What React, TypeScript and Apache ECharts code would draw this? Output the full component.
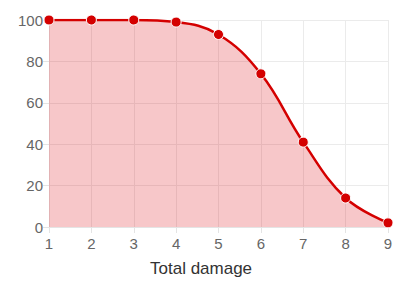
import React, { useEffect, useRef } from "react";
import * as echarts from "echarts";

const categories = ["1", "2", "3", "4", "5", "6", "7", "8", "9"];
const values = [100, 100, 100, 99, 93, 74, 41, 14, 2];
const xTitle = "Total damage";

export default function App() {
  const ref = useRef<HTMLDivElement>(null);
  useEffect(() => {
    if (!ref.current) return;
    const chart = echarts.init(ref.current, undefined, { renderer: "svg" });
    chart.setOption({
      animation: false,
      grid: { left: 49, right: 17, top: 20, bottom: 58 },
      xAxis: {
        type: "category",
        data: categories,
        boundaryGap: false,
        axisLine: { show: true, lineStyle: { color: "#e4e4e4" } },
        axisTick: { show: true, alignWithLabel: true, length: 6, lineStyle: { color: "#e4e4e4" } },
        axisLabel: { color: "#666", fontSize: 15, fontFamily: "Liberation Sans, Arial", margin: 9 },
        splitLine: { show: true, lineStyle: { color: "#ebebeb" } },
      },
      yAxis: {
        type: "value",
        min: 0,
        max: 100,
        interval: 20,
        axisLine: { show: true, lineStyle: { color: "#e4e4e4" } },
        axisTick: { show: true, length: 6, lineStyle: { color: "#e4e4e4" } },
        axisLabel: { color: "#666", fontSize: 15, fontFamily: "Liberation Sans, Arial", margin: 6 },
        splitLine: { show: true, lineStyle: { color: "#ebebeb" } },
      },
      graphic: [
        {
          type: "text",
          left: 150,
          top: 260,
          style: { text: xTitle, fill: "#333", fontSize: 17, fontFamily: "Liberation Sans, Arial" },
        },
      ],
      series: [
        {
          type: "line",
          data: values,
          smooth: 0.4,
          symbol: "circle",
          symbolSize: 10,
          lineStyle: { color: "#d40000", width: 2.5 },
          itemStyle: { color: "#d40000", borderColor: "#fff", borderWidth: 1 },
          areaStyle: { color: "rgba(220,0,10,0.22)", opacity: 1 },
        },
      ],
    });
    return () => chart.dispose();
  }, []);
  return <div ref={ref} style={{ width: 405, height: 285, marginLeft: -8, marginTop: -8 }} />;
}
